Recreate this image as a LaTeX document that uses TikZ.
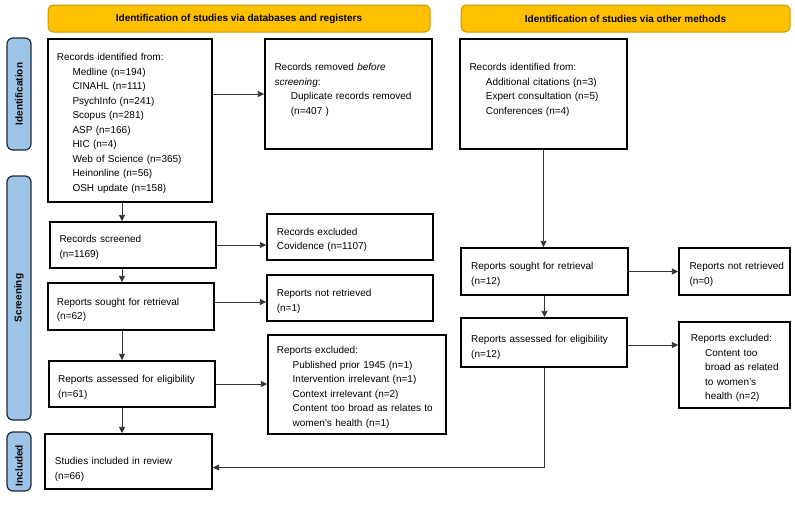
\documentclass[tikz,border=0pt]{standalone}
\usepackage{fontspec}
\setmainfont{Liberation Sans}
\usetikzlibrary{arrows.meta}
\definecolor{hdrfill}{HTML}{FFC000}
\definecolor{hdrline}{HTML}{C99700}
\definecolor{barfill}{HTML}{9DC3E6}
\definecolor{barline}{HTML}{1E2A38}
\begin{document}
\begin{tikzpicture}[x=1pt,y=-1pt,
  box/.style={draw=black, line width=1.4pt, inner sep=0pt},
  hdr/.style={draw=hdrline, fill=hdrfill, rounded corners=5pt, line width=1pt, inner sep=0pt, font=\fontsize{10}{12}\selectfont\bfseries},
  bar/.style={draw=barline, fill=barfill, rounded corners=6pt, line width=1.2pt, inner sep=0pt, rotate=90, minimum height=24pt, font=\fontsize{10}{12}\selectfont\bfseries},
  txt/.style={anchor=base west, inner sep=0pt, align=left, text width=175pt, font=\fontsize{10}{14.5}\selectfont},
  arr/.style={draw=black!80, line width=0.9pt, -{Triangle[length=6.5pt,width=6pt]}},
  ln/.style={draw=black!80, line width=0.9pt}
]
\useasboundingbox (0,0) rectangle (795,504);

% headers
\node[hdr, minimum width=382pt, minimum height=27pt] (hdrL) at (239,18.5) {\raisebox{-2pt}{Identification of studies via databases and registers}};
\node[hdr, minimum width=329pt, minimum height=27pt] (hdrR) at (625.5,18.5) {\raisebox{-2pt}{Identification of studies via other methods}};

% side bars
\node[bar, minimum width=112pt] (barI) at (19,94) {Identification};
\node[bar, minimum width=244pt] (barS) at (19,298) {Screening};
\node[bar, minimum width=59pt] (barN) at (19,461.5) {\hspace*{-8pt}Included};

% boxes
\node[box, minimum width=164pt, minimum height=163pt] (rid) at (130,120.5) {};
\node[box, minimum width=167pt, minimum height=110pt] (rrem) at (348.5,94) {};
\node[box, minimum width=167pt, minimum height=110pt] (oth) at (543.5,94) {};
\node[box, minimum width=166pt, minimum height=46pt] (scr) at (133,245) {};
\node[box, minimum width=166pt, minimum height=46pt] (exc) at (350,237) {};
\node[box, minimum width=166pt, minimum height=47pt] (sought) at (131,306.5) {};
\node[box, minimum width=166pt, minimum height=46pt] (nret) at (350,298) {};
\node[box, minimum width=166pt, minimum height=46pt] (assess) at (132,384) {};
\node[box, minimum width=178pt, minimum height=99pt] (exc2) at (357,384.5) {};
\node[box, minimum width=167pt, minimum height=55pt] (incl) at (128.5,461.5) {};
\node[box, minimum width=167pt, minimum height=47pt] (sought2) at (544.5,271.5) {};
\node[box, minimum width=111pt, minimum height=47pt] (nret2) at (734.5,271.5) {};
\node[box, minimum width=166pt, minimum height=49pt] (assess2) at (544,342.5) {};
\node[box, minimum width=111pt, minimum height=86pt] (exc3) at (734.5,365) {};

% texts
\node[txt] (t-rid) at (56.7,60.6) {Records identified from:\\
\hspace*{15.6pt}Medline (n=194)\\
\hspace*{15.6pt}CINAHL (n=111)\\
\hspace*{15.6pt}PsychInfo (n=241)\\
\hspace*{15.6pt}Scopus (n=281)\\
\hspace*{15.6pt}ASP (n=166)\\
\hspace*{15.6pt}HIC (n=4)\\
\hspace*{15.6pt}Web of Science (n=365)\\
\hspace*{15.6pt}Heinonline (n=56)\\
\hspace*{15.6pt}OSH update (n=158)};
\node[txt] (t-rrem) at (274.3,70.6) {Records removed \textit{before}\\
\textit{screening}:\\
\hspace*{16.4pt}Duplicate records removed\\
\hspace*{16.4pt}(n=407 )};
\node[txt] (t-oth) at (469.3,70.6) {Records identified from:\\
\hspace*{16.4pt}Additional citations (n=3)\\
\hspace*{16.4pt}Expert consultation (n=5)\\
\hspace*{16.4pt}Conferences (n=4)};
\node[txt] (t-scr) at (59.3,242.9) {Records screened\\(n=1169)};
\node[txt] (t-exc) at (276.7,235.3) {Records excluded\\Covidence (n=1107)};
\node[txt] (t-sought) at (56.7,305.3) {Reports sought for retrieval\\(n=62)};
\node[txt] (t-nret) at (276.7,296.9) {Reports not retrieved\\(n=1)};
\node[txt] (t-assess) at (58,382.9) {Reports assessed for eligibility\\(n=61)};
\node[txt] (t-exc2) at (276.7,353.6) {Reports excluded:\\
\hspace*{15.8pt}Published prior 1945 (n=1)\\
\hspace*{15.8pt}Intervention irrelevant (n=1)\\
\hspace*{15.8pt}Context irrelevant (n=2)\\
\hspace*{15.8pt}\makebox[146pt][s]{Content too broad as relates to}\\
\hspace*{15.8pt}women’s health (n=1)};
\node[txt] (t-incl) at (54.7,464.6) {Studies included in review\\(n=66)};
\node[txt] (t-sought2) at (471,269.6) {Reports sought for retrieval\\(n=12)};
\node[txt] (t-nret2) at (689.3,269.6) {Reports not retrieved\\(n=0)};
\node[txt] (t-assess2) at (471,342.9) {Reports assessed for eligibility\\(n=12)};
\node[txt] (t-exc3) at (690.7,341.9) {Reports excluded:\\
\hspace*{14.3pt}Content too\\
\hspace*{14.3pt}broad as related\\
\hspace*{14.3pt}to women's\\
\hspace*{14.3pt}health (n=2)};

% connectors
\coordinate (tx) at (122,0);
\draw[arr] (rid.east |- rrem.west) -- (rrem.west);
\draw[arr] (rid.south -| tx) -- (scr.north -| tx);
\draw[arr] (scr.east) -- (scr.east -| exc.west);
\draw[arr] (scr.south -| tx) -- (sought.north -| tx);
\draw[arr] ([yshift=-4pt]nret.west -| sought.east) -- ([yshift=-4pt]nret.west);
\draw[arr] (sought.south -| tx) -- (assess.north -| tx);
\draw[arr] (assess.east) -- (assess.east -| exc2.west);
\draw[arr] (assess.south -| tx) -- (incl.north -| tx);

\draw[arr] (oth.south) -- (oth.south |- sought2.north);
\draw[arr] (sought2.east) -- (sought2.east -| nret2.west);
\draw[arr] (sought2.south) -- (sought2.south |- assess2.north);
\draw[arr] ([yshift=-2.5pt]assess2.east) -- ([yshift=-2.5pt]assess2.east -| exc3.west);
\draw[arr] (assess2.south) |- ([yshift=-6pt]incl.east);
\end{tikzpicture}
\end{document}
